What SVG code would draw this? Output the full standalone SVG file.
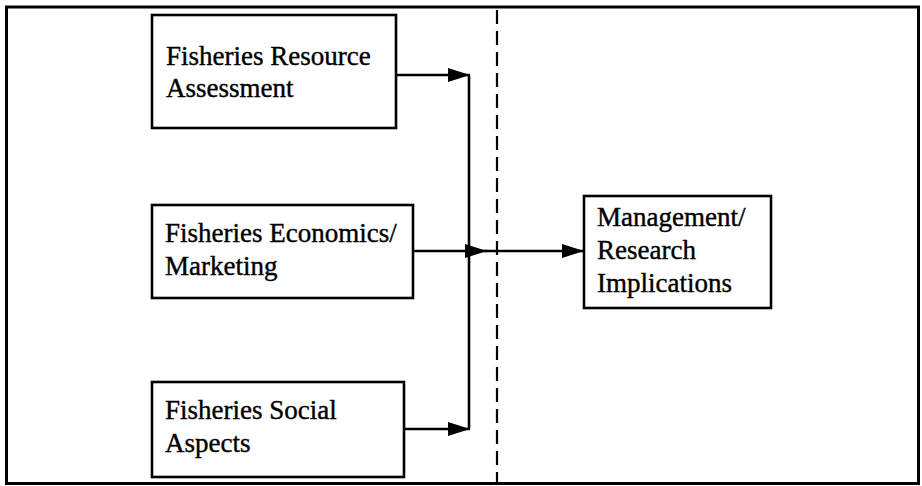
<svg xmlns="http://www.w3.org/2000/svg" width="922" height="486" viewBox="0 0 922 486">
  <style>
    .box { fill: #fff; stroke: #000; stroke-width: 2.6; }
    .label { font-family: "Liberation Serif", "Times New Roman", serif; font-size: 27px; fill: #000; stroke: #000; stroke-width: 0.4; }
    .wire { fill: none; stroke: #000; stroke-width: 2.6; }
    .divider { fill: none; stroke: #000; stroke-width: 2.2; stroke-dasharray: 14 7; }
  </style>
  <defs>
    <marker id="head" markerUnits="userSpaceOnUse" markerWidth="24" markerHeight="16" refX="22" refY="7" orient="auto">
      <path d="M0,0 L22,7 L0,14 Z" fill="#000"/>
    </marker>
  </defs>

  <!-- outer frame -->
  <rect x="6.5" y="7" width="912" height="476.5" fill="#fff" stroke="#000" stroke-width="3"/>

  <!-- dashed divider -->
  <line class="divider" x1="497" y1="10" x2="497" y2="482"/>

  <g id="resource">
    <rect class="box" x="152" y="15" width="244" height="113"/>
    <text class="label" x="166" y="65">Fisheries Resource</text>
    <text class="label" x="166" y="97">Assessment</text>
  </g>

  <g id="economics">
    <rect class="box" x="152" y="205" width="261" height="93"/>
    <text class="label" x="165" y="242">Fisheries Economics/</text>
    <text class="label" x="165" y="275">Marketing</text>
  </g>

  <g id="social">
    <rect class="box" x="152" y="382" width="252" height="95"/>
    <text class="label" x="165" y="419">Fisheries Social</text>
    <text class="label" x="165" y="452">Aspects</text>
  </g>

  <g id="implications">
    <rect class="box" x="584" y="196" width="187" height="112"/>
    <text class="label" x="597" y="226">Management/</text>
    <text class="label" x="597" y="259">Research</text>
    <text class="label" x="597" y="292">Implications</text>
  </g>

  <g id="connectors">
    <line class="wire" x1="469" y1="75" x2="469" y2="429"/>
    <line class="wire" x1="396" y1="75" x2="470" y2="75" marker-end="url(#head)"/>
    <line class="wire" x1="413" y1="251" x2="487" y2="251" marker-end="url(#head)"/>
    <line class="wire" x1="404" y1="429" x2="470" y2="429" marker-end="url(#head)"/>
    <line class="wire" x1="485" y1="251" x2="584" y2="251" marker-end="url(#head)"/>
  </g>
</svg>
